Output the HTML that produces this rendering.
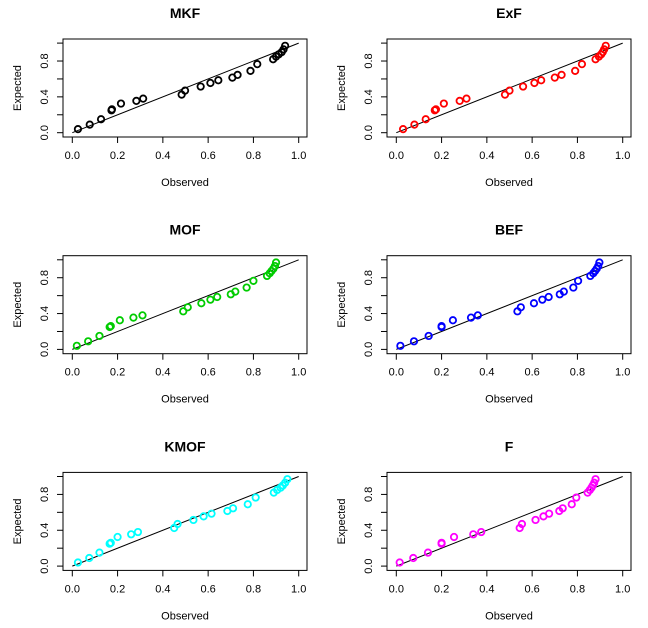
<!DOCTYPE html>
<html><head><meta charset="utf-8"><style>body{margin:0;background:#fff}svg{display:block;font-family:"Liberation Sans",Arial,sans-serif}</style></head>
<body>
<svg id="c" width="648" height="628"></svg>
<script>
const titles=["MKF","ExF","MOF","BEF","KMOF","F"];
const colors=["#000000","#ff0000","#00cc00","#0000ff","#00ffff","#ff00ff"];
const expected=[0.04,0.09,0.15,0.25,0.26,0.325,0.355,0.38,0.425,0.47,0.515,0.555,0.585,0.615,0.645,0.69,0.765,0.82,0.85,0.875,0.9,0.93,0.97];
const obsMKF=[0.025,0.077,0.127,0.173,0.175,0.215,0.283,0.313,0.483,0.498,0.567,0.61,0.645,0.707,0.73,0.787,0.817,0.887,0.9,0.912,0.925,0.933,0.94];
const obsExF=[0.03,0.08,0.13,0.17,0.175,0.21,0.28,0.31,0.48,0.5,0.56,0.61,0.64,0.70,0.73,0.79,0.82,0.88,0.895,0.905,0.912,0.918,0.925];
const obsMOF=[0.02,0.07,0.12,0.165,0.17,0.21,0.27,0.31,0.49,0.51,0.57,0.61,0.64,0.70,0.72,0.77,0.80,0.86,0.872,0.88,0.888,0.895,0.9];
const obsBEF=[0.018,0.078,0.143,0.2,0.2,0.25,0.33,0.36,0.535,0.55,0.608,0.645,0.673,0.722,0.74,0.782,0.803,0.857,0.87,0.878,0.885,0.892,0.897];
const obsKMOF=[0.025,0.075,0.12,0.165,0.17,0.2,0.26,0.29,0.45,0.465,0.535,0.58,0.615,0.685,0.71,0.775,0.81,0.89,0.905,0.92,0.93,0.94,0.95];
const obsF=[0.015,0.075,0.14,0.2,0.2,0.255,0.34,0.375,0.545,0.555,0.615,0.65,0.675,0.72,0.735,0.775,0.795,0.845,0.855,0.862,0.868,0.874,0.88];
const xTicks=["0.0","0.2","0.4","0.6","0.8","1.0"];
const yTicks=["0.0","0.4","0.8"];
const allObs=[obsMKF,obsExF,obsMOF,obsBEF,obsKMOF,obsF];
const NS="http://www.w3.org/2000/svg";
const svg=document.getElementById('c');
function mk(t,a,p){const e=document.createElementNS(NS,t);for(const k in a)e.setAttribute(k,a[k]);(p||svg).appendChild(e);return e;}
for(let i=0;i<6;i++){
  const ox=(i%2)*324, oy=39+Math.floor(i/2)*216.7;
  const g=mk('g',{});
  
  
  const X=v=>ox+72.3+v*226.4, Y=v=>oy+93.7-v*89.6;
  const t=mk('text',{x:ox+185,y:oy-21,'text-anchor':'middle','font-size':14,'font-weight':'bold'},g);t.textContent=titles[i];
  
  const b=mk('rect',{x:ox+63,y:oy,width:244,height:98,fill:'none',stroke:'#000','stroke-width':1},g);
  
  xTicks.forEach((l,k)=>{const v=parseFloat(l);mk('line',{x1:X(v),x2:X(v),y1:oy+98,y2:oy+104,stroke:'#000'},g);
    const tt=mk('text',{x:X(v),y:oy+120,'text-anchor':'middle','font-size':11},g);tt.textContent=l;
    });
  for(let k=0;k<=5;k++){const v=k*0.2;mk('line',{x1:ox+57,x2:ox+63,y1:Y(v),y2:Y(v),stroke:'#000'},g);}
  yTicks.forEach(l=>{const v=parseFloat(l);const tt=mk('text',{x:0,y:0,'text-anchor':'middle','font-size':11,transform:`translate(${ox+48},${Y(v)}) rotate(-90)`},g);tt.textContent=l;
    });
  const xl=mk('text',{x:ox+185,y:oy+147,'text-anchor':'middle','font-size':11},g);xl.textContent='Observed';
  
  const yl=mk('text',{x:0,y:0,'text-anchor':'middle','font-size':11,transform:`translate(${ox+21},${oy+49}) rotate(-90)`},g);yl.textContent='Expected';
  
  const rl=mk('line',{x1:X(0),y1:Y(0),x2:X(1),y2:Y(1),stroke:'#000','stroke-width':1},g);
  
  allObs[i].forEach((v,k)=>{const c=mk('circle',{cx:X(v),cy:Y(expected[k]),r:3.2,fill:'none',stroke:colors[i],'stroke-width':1.8},g);
    });
}
</script>
</body></html>
